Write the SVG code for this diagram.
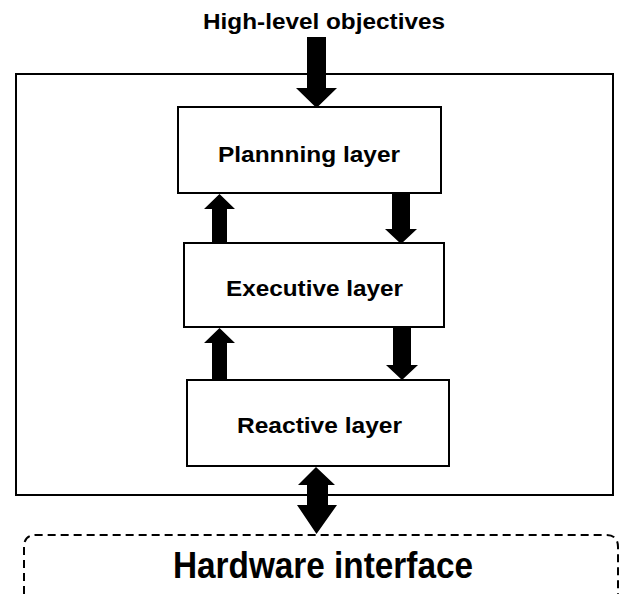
<svg xmlns="http://www.w3.org/2000/svg" width="622" height="594" viewBox="0 0 622 594">
<style>
.box{fill:#fff;stroke:#000;stroke-width:2}
.lbl{font-family:"Liberation Sans",Arial,sans-serif;font-weight:bold;font-size:22px;fill:#000}
.arr{fill:#000;stroke:none}
</style>
<rect width="622" height="594" fill="#fff"/>
<g id="system"><rect class="box" x="16" y="74" width="597" height="421"/></g>
<text class="lbl" x="203" y="29" textLength="242" lengthAdjust="spacingAndGlyphs">High-level objectives</text>
<g id="planning">
<rect class="box" x="178" y="107" width="263" height="86"/>
<text class="lbl" x="218" y="162" textLength="182" lengthAdjust="spacingAndGlyphs">Plannning layer</text>
</g>
<g id="executive">
<rect class="box" x="184" y="243" width="260" height="84"/>
<text class="lbl" x="226" y="296" textLength="177" lengthAdjust="spacingAndGlyphs">Executive layer</text>
</g>
<g id="reactive">
<rect class="box" x="187" y="380" width="262" height="86"/>
<text class="lbl" x="237" y="433" textLength="165" lengthAdjust="spacingAndGlyphs">Reactive layer</text>
</g>
<g id="hardware">
<path d="M24,594 V547 Q24,535 36,535 H606 Q618,535 618,547 V594" fill="none" stroke="#000" stroke-width="2" stroke-dasharray="8,5"/>
<text x="173" y="578" font-family="'Liberation Sans',Arial,sans-serif" font-size="36" font-weight="bold" textLength="300" lengthAdjust="spacingAndGlyphs">Hardware interface</text>
</g>
<g id="connectors">
<polygon class="arr" points="307,37 326,37 326,88 337,88 316.5,108 296,88 307,88"/>
<polygon class="arr" points="212,243 227,243 227,209 235,209 219.5,194 204,209 212,209"/>
<polygon class="arr" points="392,194 410,194 410,229 417,229 401,244 385,229 392,229"/>
<polygon class="arr" points="212,380 227,380 227,343 235,343 219.5,328 204,343 212,343"/>
<polygon class="arr" points="393,327 411,327 411,365 418,365 402,380 386,365 393,365"/>
<polygon class="arr" points="316,467 335,485 328,485 328,505 337,505 316.5,534 297,505 307,505 307,485 298,485"/>
</g>
</svg>
